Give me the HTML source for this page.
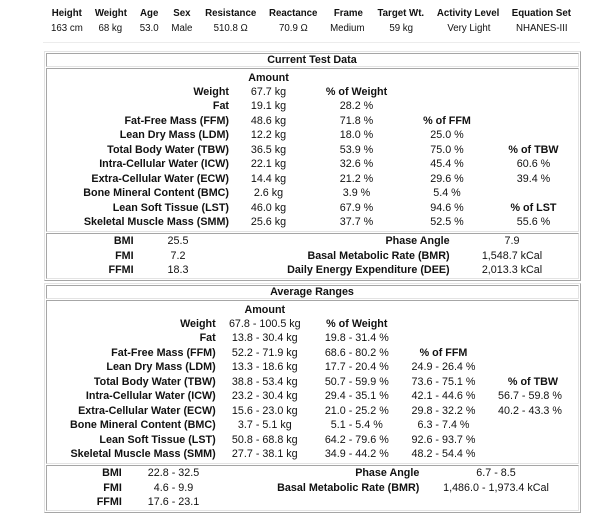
<!DOCTYPE html>
<html><head><meta charset="utf-8"><style>
html,body{margin:0;padding:0;background:#fff;}
body{width:610px;height:518px;position:relative;overflow:hidden;font-family:"Liberation Sans",Arial,Helvetica,sans-serif;color:#111;}
.t{position:absolute;white-space:nowrap;height:16px;line-height:16px;font-size:10.75px;}
.h{font-size:9.7px;width:120px;text-align:center;}
.c{width:160px;text-align:center;}
.r{text-align:right;}
.b{font-weight:bold;}
.box{position:absolute;box-sizing:border-box;border:1px solid;border-color:#e3e3e3 #a6a6a6 #a6a6a6 #e3e3e3;}
.cell{position:absolute;box-sizing:border-box;border:1px solid;border-color:#a6a6a6 #e3e3e3 #e3e3e3 #a6a6a6;}
.hr{position:absolute;left:43px;top:42px;width:537px;height:1px;background:#ececec;}
</style></head><body>

<!-- header -->
<div class="t h b" style="left:6.8px;top:6px">Height</div>
<div class="t h b" style="left:50.9px;top:6px">Weight</div>
<div class="t h b" style="left:89.2px;top:6px">Age</div>
<div class="t h b" style="left:121.9px;top:6px">Sex</div>
<div class="t h b" style="left:170.7px;top:6px">Resistance</div>
<div class="t h b" style="left:233.2px;top:6px">Reactance</div>
<div class="t h b" style="left:288.4px;top:6px">Frame</div>
<div class="t h b" style="left:340.8px;top:6px">Target Wt.</div>
<div class="t h b" style="left:408.1px;top:6px">Activity Level</div>
<div class="t h b" style="left:481.4px;top:6px">Equation Set</div>

<div class="t h" style="left:6.9px;top:20.5px">163 cm</div>
<div class="t h" style="left:50.3px;top:20.5px">68 kg</div>
<div class="t h" style="left:89.2px;top:20.5px">53.0</div>
<div class="t h" style="left:121.9px;top:20.5px">Male</div>
<div class="t h" style="left:170.7px;top:20.5px">510.8 Ω</div>
<div class="t h" style="left:233.4px;top:20.5px">70.9 Ω</div>
<div class="t h" style="left:287.3px;top:20.5px">Medium</div>
<div class="t h" style="left:341.2px;top:20.5px">59 kg</div>
<div class="t h" style="left:408.9px;top:20.5px">Very Light</div>
<div class="t h" style="left:481.8px;top:20.5px">NHANES-III</div>

<div class="hr"></div>

<!-- Table 1 -->
<div class="box" style="left:44px;top:51px;width:537px;height:230px"></div>
<div class="cell" style="left:46px;top:53px;width:533px;height:14px"></div>
<div class="cell" style="left:46px;top:68px;width:533px;height:164px"></div>
<div class="cell" style="left:46px;top:233px;width:533px;height:46px"></div>

<div class="t c b" style="left:232px;top:51.7px">Current Test Data</div>

<div class="t c b" style="left:188.5px;top:69.5px">Amount</div>

<div class="t r b" style="right:381px;top:84px">Weight</div>
<div class="t r b" style="right:381px;top:98.4px">Fat</div>
<div class="t r b" style="right:381px;top:112.9px">Fat-Free Mass (FFM)</div>
<div class="t r b" style="right:381px;top:127.4px">Lean Dry Mass (LDM)</div>
<div class="t r b" style="right:381px;top:141.9px">Total Body Water (TBW)</div>
<div class="t r b" style="right:381px;top:156.3px">Intra-Cellular Water (ICW)</div>
<div class="t r b" style="right:381px;top:170.8px">Extra-Cellular Water (ECW)</div>
<div class="t r b" style="right:381px;top:185.3px">Bone Mineral Content (BMC)</div>
<div class="t r b" style="right:381px;top:199.7px">Lean Soft Tissue (LST)</div>
<div class="t r b" style="right:381px;top:214.2px">Skeletal Muscle Mass (SMM)</div>

<div class="t c" style="left:188.5px;top:84px">67.7 kg</div>
<div class="t c" style="left:188.5px;top:98.4px">19.1 kg</div>
<div class="t c" style="left:188.5px;top:112.9px">48.6 kg</div>
<div class="t c" style="left:188.5px;top:127.4px">12.2 kg</div>
<div class="t c" style="left:188.5px;top:141.9px">36.5 kg</div>
<div class="t c" style="left:188.5px;top:156.3px">22.1 kg</div>
<div class="t c" style="left:188.5px;top:170.8px">14.4 kg</div>
<div class="t c" style="left:188.5px;top:185.3px">2.6 kg</div>
<div class="t c" style="left:188.5px;top:199.7px">46.0 kg</div>
<div class="t c" style="left:188.5px;top:214.2px">25.6 kg</div>

<div class="t c b" style="left:276.5px;top:84px">% of Weight</div>
<div class="t c" style="left:276.5px;top:98.4px">28.2 %</div>
<div class="t c" style="left:276.5px;top:112.9px">71.8 %</div>
<div class="t c" style="left:276.5px;top:127.4px">18.0 %</div>
<div class="t c" style="left:276.5px;top:141.9px">53.9 %</div>
<div class="t c" style="left:276.5px;top:156.3px">32.6 %</div>
<div class="t c" style="left:276.5px;top:170.8px">21.2 %</div>
<div class="t c" style="left:276.5px;top:185.3px">3.9 %</div>
<div class="t c" style="left:276.5px;top:199.7px">67.9 %</div>
<div class="t c" style="left:276.5px;top:214.2px">37.7 %</div>

<div class="t c b" style="left:367px;top:112.9px">% of FFM</div>
<div class="t c" style="left:367px;top:127.4px">25.0 %</div>
<div class="t c" style="left:367px;top:141.9px">75.0 %</div>
<div class="t c" style="left:367px;top:156.3px">45.4 %</div>
<div class="t c" style="left:367px;top:170.8px">29.6 %</div>
<div class="t c" style="left:367px;top:185.3px">5.4 %</div>
<div class="t c" style="left:367px;top:199.7px">94.6 %</div>
<div class="t c" style="left:367px;top:214.2px">52.5 %</div>

<div class="t c b" style="left:453.5px;top:141.9px">% of TBW</div>
<div class="t c" style="left:453.5px;top:156.3px">60.6 %</div>
<div class="t c" style="left:453.5px;top:170.8px">39.4 %</div>
<div class="t c b" style="left:453.5px;top:199.7px">% of LST</div>
<div class="t c" style="left:453.5px;top:214.2px">55.6 %</div>

<div class="t r b" style="right:476.4px;top:233px">BMI</div>
<div class="t r b" style="right:476.4px;top:247.5px">FMI</div>
<div class="t r b" style="right:476.4px;top:262px">FFMI</div>
<div class="t c" style="left:98px;top:233px">25.5</div>
<div class="t c" style="left:98px;top:247.5px">7.2</div>
<div class="t c" style="left:98px;top:262px">18.3</div>

<div class="t r b" style="right:160.4px;top:233px">Phase Angle</div>
<div class="t r b" style="right:160.4px;top:247.5px">Basal Metabolic Rate (BMR)</div>
<div class="t r b" style="right:160.4px;top:262px">Daily Energy Expenditure (DEE)</div>
<div class="t c" style="left:432px;top:233px">7.9</div>
<div class="t c" style="left:432px;top:247.5px">1,548.7 kCal</div>
<div class="t c" style="left:432px;top:262px">2,013.3 kCal</div>

<!-- Table 2 -->
<div class="box" style="left:44px;top:283px;width:537px;height:230px"></div>
<div class="cell" style="left:46px;top:285px;width:533px;height:14px"></div>
<div class="cell" style="left:46px;top:300px;width:533px;height:164px"></div>
<div class="cell" style="left:46px;top:465px;width:533px;height:46px"></div>

<div class="t c b" style="left:232px;top:284px">Average Ranges</div>

<div class="t c b" style="left:184.8px;top:301.5px">Amount</div>

<div class="t r b" style="right:394.3px;top:316px">Weight</div>
<div class="t r b" style="right:394.3px;top:330.4px">Fat</div>
<div class="t r b" style="right:394.3px;top:344.9px">Fat-Free Mass (FFM)</div>
<div class="t r b" style="right:394.3px;top:359.4px">Lean Dry Mass (LDM)</div>
<div class="t r b" style="right:394.3px;top:373.9px">Total Body Water (TBW)</div>
<div class="t r b" style="right:394.3px;top:388.3px">Intra-Cellular Water (ICW)</div>
<div class="t r b" style="right:394.3px;top:402.8px">Extra-Cellular Water (ECW)</div>
<div class="t r b" style="right:394.3px;top:417.3px">Bone Mineral Content (BMC)</div>
<div class="t r b" style="right:394.3px;top:431.7px">Lean Soft Tissue (LST)</div>
<div class="t r b" style="right:394.3px;top:446.2px">Skeletal Muscle Mass (SMM)</div>

<div class="t c" style="left:184.8px;top:316px">67.8 - 100.5 kg</div>
<div class="t c" style="left:184.8px;top:330.4px">13.8 - 30.4 kg</div>
<div class="t c" style="left:184.8px;top:344.9px">52.2 - 71.9 kg</div>
<div class="t c" style="left:184.8px;top:359.4px">13.3 - 18.6 kg</div>
<div class="t c" style="left:184.8px;top:373.9px">38.8 - 53.4 kg</div>
<div class="t c" style="left:184.8px;top:388.3px">23.2 - 30.4 kg</div>
<div class="t c" style="left:184.8px;top:402.8px">15.6 - 23.0 kg</div>
<div class="t c" style="left:184.8px;top:417.3px">3.7 - 5.1 kg</div>
<div class="t c" style="left:184.8px;top:431.7px">50.8 - 68.8 kg</div>
<div class="t c" style="left:184.8px;top:446.2px">27.7 - 38.1 kg</div>

<div class="t c b" style="left:276.8px;top:316px">% of Weight</div>
<div class="t c" style="left:276.8px;top:330.4px">19.8 - 31.4 %</div>
<div class="t c" style="left:276.8px;top:344.9px">68.6 - 80.2 %</div>
<div class="t c" style="left:276.8px;top:359.4px">17.7 - 20.4 %</div>
<div class="t c" style="left:276.8px;top:373.9px">50.7 - 59.9 %</div>
<div class="t c" style="left:276.8px;top:388.3px">29.4 - 35.1 %</div>
<div class="t c" style="left:276.8px;top:402.8px">21.0 - 25.2 %</div>
<div class="t c" style="left:276.8px;top:417.3px">5.1 - 5.4 %</div>
<div class="t c" style="left:276.8px;top:431.7px">64.2 - 79.6 %</div>
<div class="t c" style="left:276.8px;top:446.2px">34.9 - 44.2 %</div>

<div class="t c b" style="left:363.5px;top:344.9px">% of FFM</div>
<div class="t c" style="left:363.5px;top:359.4px">24.9 - 26.4 %</div>
<div class="t c" style="left:363.5px;top:373.9px">73.6 - 75.1 %</div>
<div class="t c" style="left:363.5px;top:388.3px">42.1 - 44.6 %</div>
<div class="t c" style="left:363.5px;top:402.8px">29.8 - 32.2 %</div>
<div class="t c" style="left:363.5px;top:417.3px">6.3 - 7.4 %</div>
<div class="t c" style="left:363.5px;top:431.7px">92.6 - 93.7 %</div>
<div class="t c" style="left:363.5px;top:446.2px">48.2 - 54.4 %</div>

<div class="t c b" style="left:453px;top:373.9px">% of TBW</div>
<div class="t c" style="left:450px;top:388.3px">56.7 - 59.8 %</div>
<div class="t c" style="left:450px;top:402.8px">40.2 - 43.3 %</div>

<div class="t r b" style="right:488.2px;top:465px">BMI</div>
<div class="t r b" style="right:488.2px;top:479.5px">FMI</div>
<div class="t r b" style="right:488.2px;top:494px">FFMI</div>
<div class="t c" style="left:93.5px;top:465px">22.8 - 32.5</div>
<div class="t c" style="left:93.5px;top:479.5px">4.6 - 9.9</div>
<div class="t c" style="left:93.5px;top:494px">17.6 - 23.1</div>

<div class="t r b" style="right:190.7px;top:465px">Phase Angle</div>
<div class="t r b" style="right:190.7px;top:479.5px">Basal Metabolic Rate (BMR)</div>
<div class="t c" style="left:416px;top:465px">6.7 - 8.5</div>
<div class="t c" style="left:416px;top:479.5px">1,486.0 - 1,973.4 kCal</div>

</body></html>
